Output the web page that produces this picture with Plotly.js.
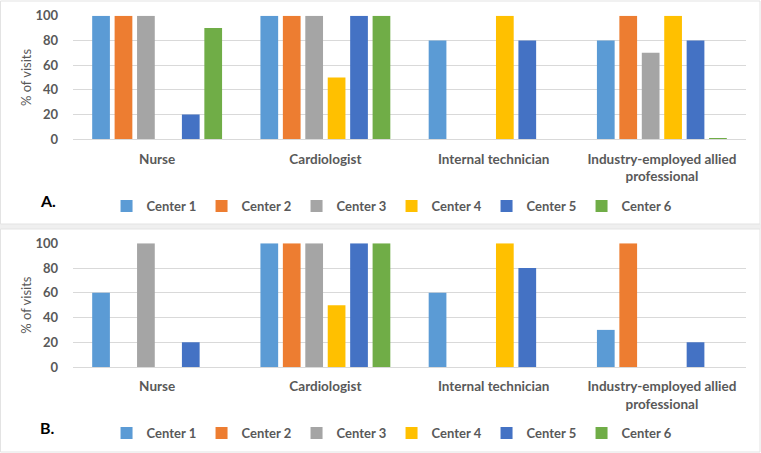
<!DOCTYPE html>
<html>
<head>
<meta charset="utf-8">
<script src="https://cdn.plot.ly/plotly-3.0.1.min.js"></script>
<style>html,body{margin:0;padding:0;background:#fff;}#chart{width:761px;height:453px;}</style>
</head>
<body>
<div id="chart"></div>
<script>
const categories = ["Nurse", "Cardiologist", "Internal technician", "Industry-employed allied<br>professional"];
const centers = ["Center 1", "Center 2", "Center 3", "Center 4", "Center 5", "Center 6"];
const colors = ["#5B9BD5", "#ED7D31", "#A5A5A5", "#FFC000", "#4472C4", "#70AD47"];
// Panel A values per center, over categories
const panelA = [
  [100, 100, 80, 80],
  [100, 100, 0, 100],
  [100, 100, 0, 70],
  [0, 50, 100, 100],
  [20, 100, 80, 80],
  [90, 100, 0, 1]
];
// Panel B values per center, over categories
const panelB = [
  [60, 100, 60, 30],
  [0, 100, 0, 100],
  [100, 100, 0, 0],
  [0, 50, 100, 0],
  [20, 100, 80, 20],
  [0, 100, 0, 0]
];
const yTicks = [0, 20, 40, 60, 80, 100];

const txt = {family: "Lato, 'Open Sans', sans-serif", color: "#595959"};
const traces = [];
centers.forEach((c, i) => {
  traces.push({type: "bar", name: c, x: categories, y: panelA[i], xaxis: "x", yaxis: "y",
    marker: {color: colors[i]}, legend: "legend", hoverinfo: "y"});
});
centers.forEach((c, i) => {
  traces.push({type: "bar", name: c, x: categories, y: panelB[i], xaxis: "x2", yaxis: "y2",
    marker: {color: colors[i]}, legend: "legend2", hoverinfo: "y"});
});

const W = 761, H = 453;
const xd = [73 / W, 746 / W];
const yA = [1 - 139.3 / H, 1 - 15.7 / H];
const yB = [1 - 367 / H, 1 - 243.3 / H];

function xax(anchor) {
  return {domain: xd, anchor: anchor, showgrid: false, showline: true, linecolor: "#d9d9d9", linewidth: 1,
    ticks: "", ticklabelstandoff: 7, tickfont: Object.assign({size: 13.5, weight: "bold"}, txt), fixedrange: true};
}
function yax(domain, anchor) {
  return {domain: domain, anchor: anchor, range: [0, 100], tickvals: yTicks, showgrid: true, gridcolor: "#d9d9d9",
    zeroline: false, showline: false, ticks: "", ticklabelstandoff: 14,
    tickfont: Object.assign({size: 13, weight: "bold"}, txt),
    title: {text: "% of visits", standoff: 0, font: Object.assign({size: 13}, txt)}, fixedrange: true};
}
function leg(y) {
  return {orientation: "h", x: 0.14, xanchor: "left", y: y, yanchor: "middle", entrywidth: 50, entrywidthmode: "pixels",
    itemwidth: 30,
    font: Object.assign({size: 13, weight: "bold"}, txt), itemclick: false, itemdoubleclick: false,
    bgcolor: "rgba(0,0,0,0)", tracegroupgap: 0};
}

const layout = {
  width: W, height: H, margin: {l: 0, r: 0, t: 0, b: 0},
  paper_bgcolor: "#ffffff", plot_bgcolor: "#ffffff",
  barmode: "group", bargap: 0.2, bargroupgap: 0.21,
  showlegend: true,
  xaxis: xax("y"), yaxis: yax(yA, "x"),
  xaxis2: xax("y2"), yaxis2: yax(yB, "x2"),
  legend: leg(1 - 206 / H),
  legend2: leg(1 - 433 / H),
  shapes: [
    {type: "rect", xref: "paper", yref: "paper", x0: 0, x1: 1, y0: 1 - 229 / H, y1: 1 - 224 / H,
      fillcolor: "#efefef", line: {width: 0}, layer: "below"},
    {type: "rect", xref: "paper", yref: "paper", x0: 0.5 / W, x1: 1 - 1 / W, y0: 1 - 224 / H, y1: 1 - 1 / H,
      fillcolor: "rgba(0,0,0,0)", line: {color: "#e3e3e3", width: 1}},
    {type: "rect", xref: "paper", yref: "paper", x0: 0.5 / W, x1: 1 - 1 / W, y0: 1 / H, y1: 1 - 229 / H,
      fillcolor: "rgba(0,0,0,0)", line: {color: "#e3e3e3", width: 1}}
  ],
  annotations: [
    {text: "A.", xref: "paper", yref: "paper", x: 38 / W, y: 1 - 200 / H, xanchor: "left", yanchor: "middle",
      showarrow: false, font: {family: "Lato, sans-serif", size: 16, weight: "bold", color: "#000"}},
    {text: "B.", xref: "paper", yref: "paper", x: 38 / W, y: 1 - 427 / H, xanchor: "left", yanchor: "middle",
      showarrow: false, font: {family: "Lato, sans-serif", size: 16, weight: "bold", color: "#000"}}
  ]
};

Plotly.newPlot("chart", traces, layout, {displayModeBar: false, staticPlot: true});
</script>
</body>
</html>
